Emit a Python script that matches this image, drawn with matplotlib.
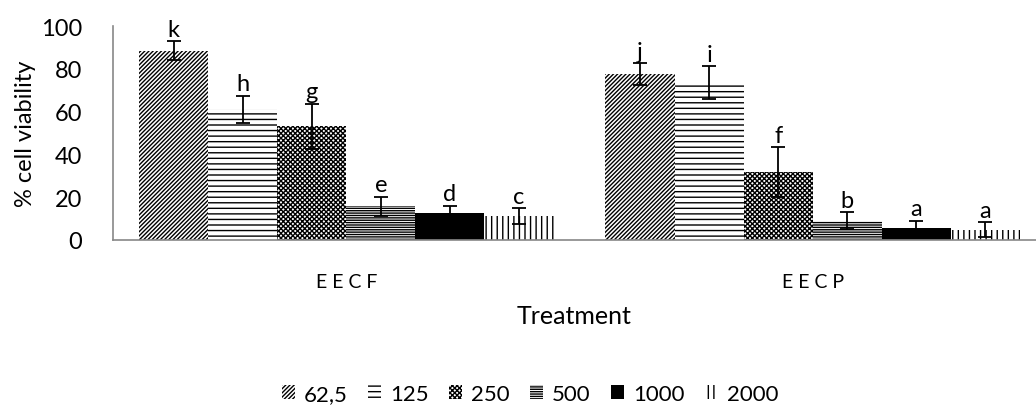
import matplotlib
matplotlib.use("Agg")
import matplotlib.pyplot as plt
import numpy as np

plt.rcParams['font.family'] = ['Lato', 'DejaVu Sans']
plt.rcParams['hatch.linewidth'] = 1.0

treatments = ["EECF", "EECP"]
concentrations = ["62,5", "125", "250", "500", "1000", "2000"]
# values[concentration][treatment]
values = {
    "62,5": [88.4, 77.5],
    "125": [61.0, 73.6],
    "250": [53.2, 31.8],
    "500": [15.8, 9.0],
    "1000": [12.4, 5.4],
    "2000": [11.3, 4.7],
}
errors = {
    "62,5": [4.4, 5.2],
    "125": [6.5, 7.5],
    "250": [10.5, 11.5],
    "500": [4.5, 4.0],
    "1000": [3.6, 3.6],
    "2000": [3.6, 3.5],
}
letters = {
    "62,5": ["k", "j"],
    "125": ["h", "i"],
    "250": ["g", "f"],
    "500": ["e", "b"],
    "1000": ["d", "a"],
    "2000": ["c", "a"],
}
hatches = ["////////", "---", "xxxxxxx", "-------", None, "|||"]
facecolors = ["white", "white", "white", "white", "black", "white"]

fig = plt.figure(figsize=(10.36, 4.06), dpi=100)
ax = fig.add_axes([113/1036, 165/406, 1 - 113/1036, 214/406])

x = np.arange(len(treatments))
n = len(concentrations)
group_w = 415/467
bw = group_w / n

handles = []
for i, c in enumerate(concentrations):
    pos = x - group_w/2 + bw*(i + 0.5)
    bars = ax.bar(pos, values[c], width=bw, facecolor=facecolors[i],
                  edgecolor="black", linewidth=0, hatch=hatches[i], label=c)
    handles.append(bars)
    ax.errorbar(pos, values[c], yerr=errors[c], fmt="none", ecolor="black",
                elinewidth=1.3, capsize=5, capthick=1.3)
    for p, v, e, l in zip(pos, values[c], errors[c], letters[c]):
        ax.text(p, v + e + 0.6, l, ha="center", va="bottom", fontsize=17)

ax.set_ylim(0, 100)
ax.set_xlim(-0.5, (1036 - 112)/467 - 0.5)
ax.set_yticks([0, 20, 40, 60, 80, 100])
ax.tick_params(axis="y", length=0, labelsize=17, pad=22)
ax.tick_params(axis="x", length=0, labelsize=14, pad=24)
ax.set_xticks(x)
ax.set_xticklabels(["E E C F", "E E C P"])
for s in ["top", "right"]:
    ax.spines[s].set_visible(False)
ax.spines["left"].set_color("#888888")
ax.spines["bottom"].set_color("#888888")
ax.spines["left"].set_linewidth(1.2)
ax.spines["bottom"].set_linewidth(1.2)
ax.set_ylabel("% cell viability", fontsize=17, labelpad=4)
ax.set_xlabel("Treatment", fontsize=18, labelpad=10)

fig.legend(handles=handles, labels=concentrations, loc="center",
           bbox_to_anchor=(530/1036, 1 - 395/406), ncol=6, frameon=False,
           fontsize=16, handlelength=0.6, handleheight=0.6,
           handletextpad=0.4, columnspacing=0.9)

fig.savefig("out.png", dpi=100)
